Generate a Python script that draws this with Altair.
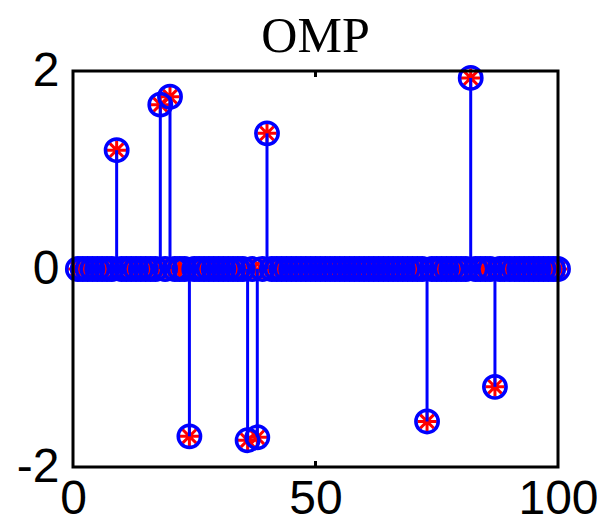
import altair as alt
import pandas as pd

# sample indices of the signal
signal_idx = list(range(1, 101))
# nonzero entries of the sparse signal (positions and values)
spike_pos = [9, 18, 20, 24, 36, 38, 40, 73, 82, 87]
spike_val = [1.20, 1.66, 1.74, -1.69, -1.73, -1.70, 1.37, -1.54, 1.93, -1.19]
# recovered values by OMP (same as original at the spikes)
rec_val = [1.20, 1.66, 1.74, -1.69, -1.73, -1.70, 1.37, -1.54, 1.93, -1.19]

x_ticks = [0, 50, 100]
y_ticks = [-2, 0, 2]

orig = {p: v for p, v in zip(spike_pos, spike_val)}
rec = {p: v for p, v in zip(spike_pos, rec_val)}
df = pd.DataFrame({
    "n": signal_idx,
    "orig": [orig.get(i, 0.0) for i in signal_idx],
    "rec": [rec.get(i, 0.0) for i in signal_idx],
    "base": [0.0] * len(signal_idx),
})

W, H = 485, 396
BLUE = "#0000FF"
RED = "#FF0000"

xs = alt.Scale(domain=[0, 100], nice=False, zero=False)
ys = alt.Scale(domain=[-2, 2], nice=False, zero=False)

xaxis = alt.Axis(values=x_ticks, labelFontSize=48, labelFont="Liberation Sans",
                 labelColor="black", domain=False, ticks=False, grid=False,
                 labelPadding=8, title=None, labelFlush=False,
                 labelExpr="'' + datum.value")
yaxis = alt.Axis(values=y_ticks, labelFontSize=48, labelFont="Liberation Sans",
                 labelColor="black", domain=False, ticks=False, grid=False,
                 labelPadding=14, title=None, labelFlush=False,
                 labelExpr="'' + datum.value")

base = alt.Chart(df)

star_path = "M-1,0L1,0M0,-1L0,1M-0.7,-0.7L0.7,0.7M-0.7,0.7L0.7,-0.7"

stars = base.mark_point(shape=star_path, filled=False, stroke=RED,
                        strokeWidth=3, size=380, opacity=1).encode(
    x=alt.X("n:Q", scale=xs, axis=xaxis),
    y=alt.Y("rec:Q", scale=ys, axis=yaxis),
)

stems = base.mark_rule(color=BLUE, strokeWidth=3).encode(
    x=alt.X("n:Q", scale=xs),
    y=alt.Y("base:Q", scale=ys),
    y2="orig:Q",
)

circles = base.mark_point(shape="circle", filled=False, stroke=BLUE,
                          strokeWidth=3.5, size=500, opacity=1).encode(
    x=alt.X("n:Q", scale=xs),
    y=alt.Y("orig:Q", scale=ys),
)

tick_df = pd.DataFrame({"t": [50]})
tick_bottom = alt.Chart(tick_df).mark_rule(color="black", strokeWidth=3).encode(
    x=alt.X("t:Q", scale=xs), y=alt.value(H - 6), y2=alt.value(H))
tick_top = alt.Chart(tick_df).mark_rule(color="black", strokeWidth=3).encode(
    x=alt.X("t:Q", scale=xs), y=alt.value(0), y2=alt.value(6))

box = alt.Chart(pd.DataFrame({"a": [0]})).mark_rect(
    fill=None, stroke="black", strokeWidth=3).encode(
    x=alt.value(0), x2=alt.value(W), y=alt.value(0), y2=alt.value(H))

chart = alt.layer(stars, stems, circles, tick_bottom, tick_top, box).properties(
    width=W, height=H,
    title=alt.TitleParams("OMP", font="Liberation Serif", fontSize=50,
                          fontWeight="normal", color="black", offset=-15,
                          anchor="middle"),
    autosize=alt.AutoSizeParams(type="none"),
    padding={"left": 65, "top": 63, "right": 39, "bottom": 56},
).configure_view(stroke=None).configure(background="white")

chart.save("out.html", embed_options={"renderer": "svg", "actions": False})
